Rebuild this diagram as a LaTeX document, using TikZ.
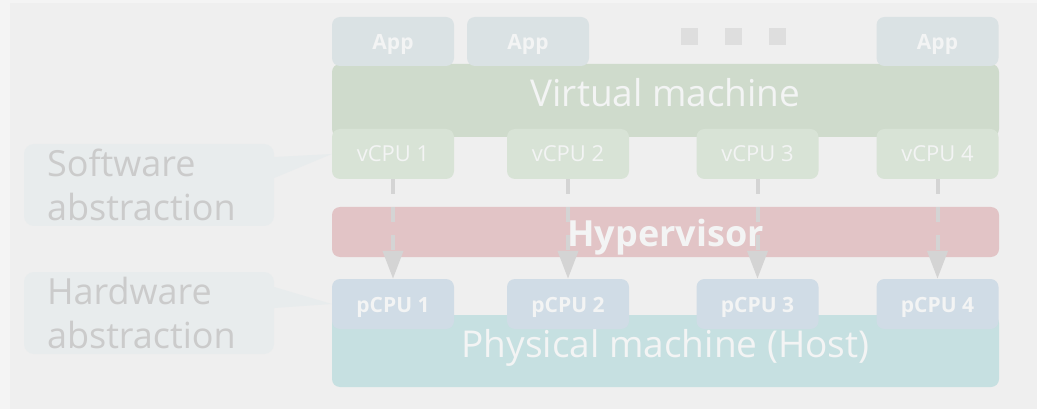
\documentclass[tikz,border=0pt]{standalone}
\usepackage{fontspec}
\setmainfont{Open Sans}
\usetikzlibrary{arrows.meta}

\definecolor{outerbg}{HTML}{F4F4F4}
\definecolor{innerbg}{HTML}{EFEFEF}
\definecolor{appcol}{HTML}{DAE2E4}
\definecolor{vmcol}{HTML}{CFDBCC}
\definecolor{vcpucol}{HTML}{D8E3D6}
\definecolor{hypcol}{HTML}{E2C4C6}
\definecolor{pcpucol}{HTML}{D0DCE6}
\definecolor{hostcol}{HTML}{C6E0E1}
\definecolor{calloutcol}{HTML}{E8ECED}
\definecolor{labelcol}{HTML}{F3F4F4}
\definecolor{grayline}{HTML}{D4D4D4}
\definecolor{dotcol}{HTML}{DEDEDE}
\definecolor{sidetext}{HTML}{CBCBCB}

\begin{document}
\begin{tikzpicture}[x=1pt,y=-1pt,
    box/.style={rounded corners=8pt, inner sep=0pt, text=labelcol},
    small/.style={box, minimum width=122pt, minimum height=50pt, text height=16pt, text depth=0pt},
    appbox/.style={small, fill=appcol, minimum height=49pt, font=\bfseries\fontsize{21}{25}\selectfont},
    vcpubox/.style={small, fill=vcpucol, font=\fontsize{22}{26}\selectfont},
    pcpubox/.style={small, fill=pcpucol, font=\bfseries\fontsize{21}{25}\selectfont},
    layer/.style={box, minimum width=667pt, text height=26pt, text depth=13pt,
        font=\fontsize{37}{42}\selectfont},
    callout/.style={rounded corners=10pt, fill=calloutcol, inner xsep=23pt, inner ysep=0pt,
        text width=204pt, minimum height=82pt, align=left, text=sidetext,
        font=\fontsize{36}{44}\selectfont},
    dotsq/.style={fill=dotcol, minimum size=17pt, inner sep=0pt},
    flow/.style={draw=grayline, line width=4pt, dash pattern=on 15pt off 13pt,
        -{Triangle[length=28pt,width=20pt]}}]

        % background
        \fill[outerbg] (0,0) rectangle (1037,409);
        \fill[innerbg] (10,3) rectangle (1037,409);

        % guest side
        \node[layer, fill=vmcol, minimum height=73pt] (vm) at (665.5,100.5) {Virtual machine};
        \node[appbox] (app1) at (393,41.5) {App};
        \node[appbox] (app2) at (528,41.5) {App};
        \node[appbox] (app3) at (937.5,41.5) {App};
        \node[dotsq] (dot1) at (689.5,36.5) {};
        \node[dotsq] (dot2) at (733.5,36.5) {};
        \node[dotsq] (dot3) at (777.5,36.5) {};

        \node[vcpubox] (v1) at (393,154) {vCPU 1};
        \node[vcpubox] (v2) at (568,154) {vCPU 2};
        \node[vcpubox] (v3) at (757.5,154) {vCPU 3};
        \node[vcpubox] (v4) at (937.5,154) {vCPU 4};

        % hypervisor
        \node[layer, fill=hypcol, minimum height=50pt, text height=29pt, text depth=0pt,
            font=\bfseries\fontsize{36}{42}\selectfont] (hyp) at (665.5,232) {Hypervisor};

        % host side
        \node[layer, fill=hostcol, minimum height=72pt] (host) at (665.5,351) {Physical machine (Host)};
        \node[pcpubox] (p1) at (393,304) {pCPU 1};
        \node[pcpubox] (p2) at (568,304) {pCPU 2};
        \node[pcpubox] (p3) at (757.5,304) {pCPU 3};
        \node[pcpubox] (p4) at (937.5,304) {pCPU 4};

        % callouts
        \node[callout] (sw) at (149,185) {Software\\abstraction};
        \fill[calloutcol] ([yshift=28pt]sw.east) -- (v1.west) -- ([yshift=7pt]sw.east) -- cycle;
        \node[callout] (hw) at (149,313) {Hardware\\abstraction};
        \fill[calloutcol] ([yshift=26pt]hw.east) -- (p1.west) -- ([yshift=5pt]hw.east) -- cycle;

        % mapping
        \draw[flow] (v1) to (p1);
        \draw[flow] (v2) to (p2);
        \draw[flow] (v3) to (p3);
        \draw[flow] (v4) to (p4);
\end{tikzpicture}
\end{document}
